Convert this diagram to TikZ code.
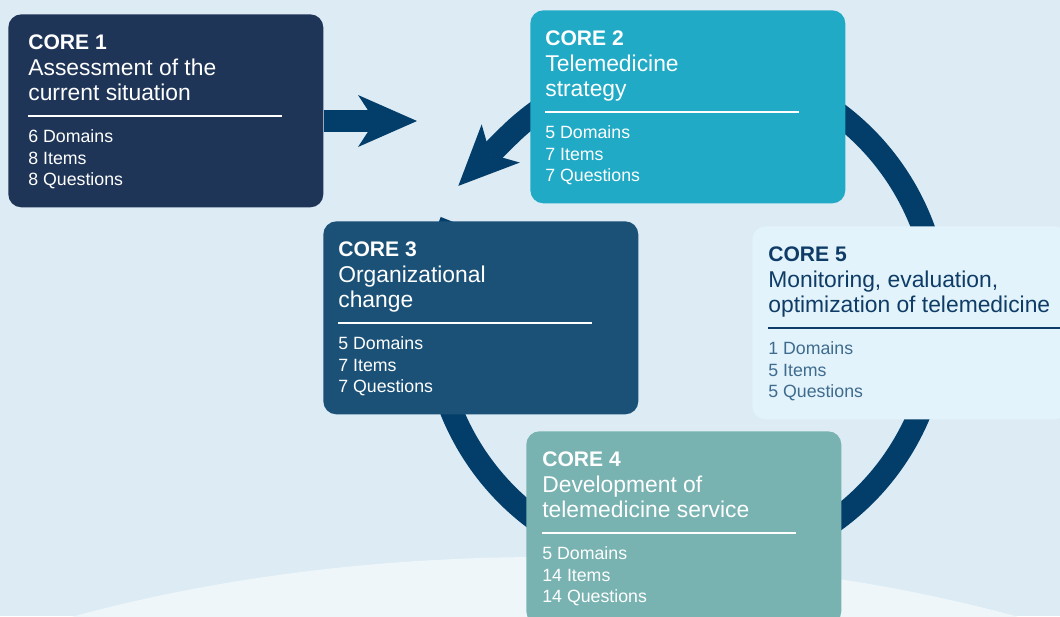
\documentclass[tikz,border=0pt]{standalone}
\usepackage{fontspec}
\setmainfont{Liberation Sans}
\usetikzlibrary{arrows.meta}

\definecolor{backblue}{HTML}{DCEBF4}
\definecolor{glowblue}{HTML}{EEF6FA}
\definecolor{ringblue}{HTML}{033E6B}
\definecolor{coreone}{HTML}{1F3558}
\definecolor{coretwo}{HTML}{20AAC6}
\definecolor{corethree}{HTML}{1B5177}
\definecolor{corefour}{HTML}{78B3B1}
\definecolor{corefive}{HTML}{E2F3FB}
\definecolor{fivetext}{HTML}{0E3C66}
\definecolor{fiveitem}{HTML}{3F6B8E}

\tikzset{
	corebox/.style={draw=none, rounded corners=0.26cm, minimum width=6.3cm, minimum height=3.86cm, inner sep=0pt, anchor=north west},
	coretitle/.style={font=\bfseries\fontsize{12}{14}\selectfont, inner sep=0pt, anchor=base west},
	corename/.style={font=\fontsize{13}{15}\selectfont, inner sep=0pt, anchor=base west},
	coreitem/.style={font=\fontsize{10.1}{12}\selectfont, inner sep=0pt, anchor=base west},
	corerule/.style={line width=0.85pt},
	ring/.style={draw=ringblue, line width=0.46cm},
	flow/.style={draw=ringblue, line width=0.44cm}
}

% box name, inset, title, two lines, items, text colour, item colour, rule length
\newcommand{\coretext}[9]{%
	\node[coretitle, text=#7] (#1t) at ([shift={(#2,-35)}]#1.north west) {#3};
	\node[corename, text=#7] (#1a) at ([shift={(#2,-61)}]#1.north west) {#4};
	\node[corename, text=#7] (#1b) at ([shift={(#2,-86)}]#1.north west) {#5};
	\draw[corerule, draw=#7] ([shift={(#2,-102)}]#1.north west) -- ++(#9,0);
	\foreach \s [count=\k] in {#6} {
		\node[coreitem, text=#8] (#1l\k) at ([shift={(#2,{-107-21.5*\k})}]#1.north west) {\s};
	}
}

\begin{document}
\begin{tikzpicture}[x=0.02cm, y=0.02cm]
	\useasboundingbox (0,0) rectangle (1060,-616);
	\clip (0,0) rectangle (1060,-616);
	\fill[backblue] (0,0) rectangle (1060,-616);
	\fill[glowblue] (545,-1000) ellipse [x radius=942, y radius=443];

	% cycle
	\coordinate (hub) at (686,-316);
	\draw[ring, -{Stealth[length=1.2cm, width=1.08cm, inset=0.3cm, line width=0pt]}]
		([shift={(158:253)}]hub) arc[start angle=158, end angle=495, radius=253] -- ++(225:69);

	\node[corebox, fill=coreone] (core1) at (8,-14) {};
	\node[corebox, fill=coretwo] (core2) at (530,-10) {};
	\node[corebox, fill=corethree] (core3) at (323,-221) {};
	\node[corebox, fill=corefour] (core4) at (526,-431) {};
	\node[corebox, fill=corefive] (core5) at (752,-226) {};

	% from core 1 into the cycle
	\coordinate (entry) at (417,-121);
	\draw[flow, -{Stealth[length=1.18cm, width=1.04cm, inset=0.34cm, line width=0pt]}] (core1.east |- entry) -- (entry);

	\coretext{core1}{20}{CORE 1}{Assessment of the}{current situation}{6 Domains,8 Items,8 Questions}{white}{white}{254}
	\coretext{core2}{15}{CORE 2}{Telemedicine}{strategy}{5 Domains,7 Items,7 Questions}{white}{white}{254}
	\coretext{core3}{15}{CORE 3}{Organizational}{change}{5 Domains,7 Items,7 Questions}{white}{white}{254}
	\coretext{core4}{16}{CORE 4}{Development of}{telemedicine service}{5 Domains,14 Items,14 Questions}{white}{white}{254}
	\coretext{core5}{16}{CORE 5}{Monitoring, evaluation,}{optimization of telemedicine}{1 Domains,5 Items,5 Questions}{fivetext}{fiveitem}{300}
\end{tikzpicture}
\end{document}
